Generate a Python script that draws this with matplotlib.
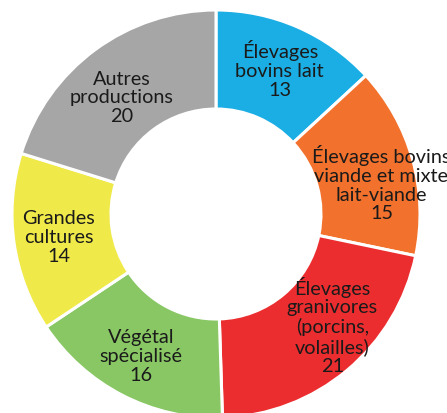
import matplotlib
matplotlib.use("Agg")
import matplotlib.pyplot as plt

categories = ["Élevages\nbovins lait", "Élevages bovins\nviande et mixte\nlait-viande",
              "Élevages\ngranivores\n(porcins,\nvolailles)", "Végétal\nspécialisé",
              "Grandes\ncultures", "Autres\nproductions"]
values = [13, 15, 21, 16, 14, 20]
colors = ["#1baee4", "#f2712c", "#ec2d2f", "#88c764", "#f0e94a", "#a6a6a6"]

W, H = 447, 414
cx, cy, R = 216, 215, 204
# label nudges in pixels (right, up)
nudges = [(0, 0), (12, -11), (14, 11), (-2, 0), (0, 0), (0, -11)]

fig = plt.figure(figsize=(W / 100, H / 100), dpi=100)
ax = fig.add_axes([0, 0, 1, 1])
labels = [f"{c}\n{v}" for c, v in zip(categories, values)]
wedges, texts = ax.pie(values, colors=colors, startangle=90, counterclock=False,
                       radius=1, labels=labels, labeldistance=0.78,
                       wedgeprops=dict(width=1 - 105 / 204, edgecolor="white", linewidth=2.2),
                       textprops=dict(fontsize=14.3, family="Lato", color="#1a1a1a",
                                      ha="center", va="center", multialignment="center",
                                      linespacing=1.13))
for t, (dx, dy) in zip(texts, nudges):
    t.set_ha("center")
    t.set_va("center")
    x, y = t.get_position()
    t.set_position((x + dx / R, y + dy / R))
ax.set_xlim(-cx / R, (W - cx) / R)
ax.set_ylim(-(H - cy) / R, cy / R)
ax.set_aspect("auto")
ax.axis("off")
fig.savefig("out.png", dpi=100)
